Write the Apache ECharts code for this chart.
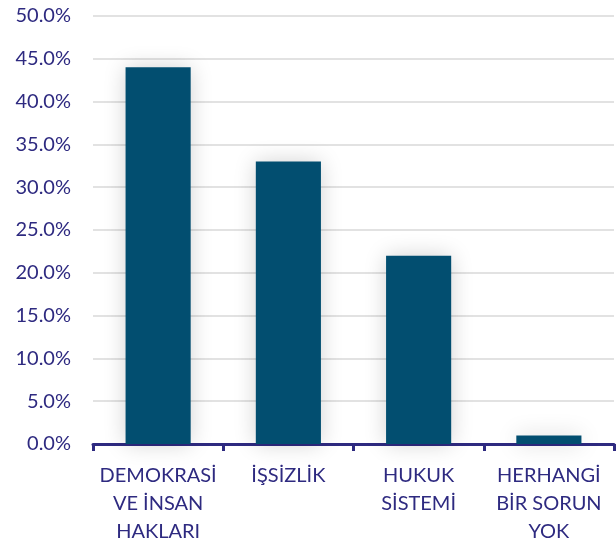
<!DOCTYPE html>
<html><head><meta charset="utf-8">
<script src="https://cdn.jsdelivr.net/npm/echarts@6/dist/echarts.min.js"></script>
<style>html,body{margin:0;padding:0;background:#fff}#c{width:616px;height:550px}</style>
</head><body><div id="c"></div>
<script>
const categories = ["DEMOKRASİ\nVE İNSAN\nHAKLARI", "İŞSİZLİK", "HUKUK\nSİSTEMİ", "HERHANGİ\nBİR SORUN\nYOK"];
const values = [44.0, 33.0, 22.0, 1.0];
const yMin = 0, yMax = 50, yStep = 5;

const chart = echarts.init(document.getElementById('c'), null, {renderer: 'canvas'});
chart.setOption({
  animation: false,
  grid: {left: 93, right: 2, top: 16, bottom: 106},
  xAxis: {
    type: 'category', data: categories,
    axisLine: {lineStyle: {color: '#2E2A80', width: 3}},
    axisTick: {show: true, length: 7, lineStyle: {color: '#2E2A80', width: 3}},
    axisLabel: {color: '#2E2A80', fontFamily: 'Lato', fontSize: 20, lineHeight: 28, margin: 18, interval: 0}
  },
  yAxis: {
    type: 'value', min: yMin, max: yMax, interval: yStep,
    axisLine: {show: false}, axisTick: {show: false},
    splitLine: {lineStyle: {color: '#D9D9D9', width: 1.5}},
    axisLabel: {color: '#2E2A80', fontFamily: 'Lato', fontSize: 20, margin: 22,
      formatter: v => v.toFixed(1) + '%'}
  },
  series: [{
    type: 'bar', data: values, barWidth: '50%',
    itemStyle: {color: '#024E70', shadowColor: 'rgba(0,0,0,0.18)', shadowBlur: 22}
  }]
});
</script></body></html>
